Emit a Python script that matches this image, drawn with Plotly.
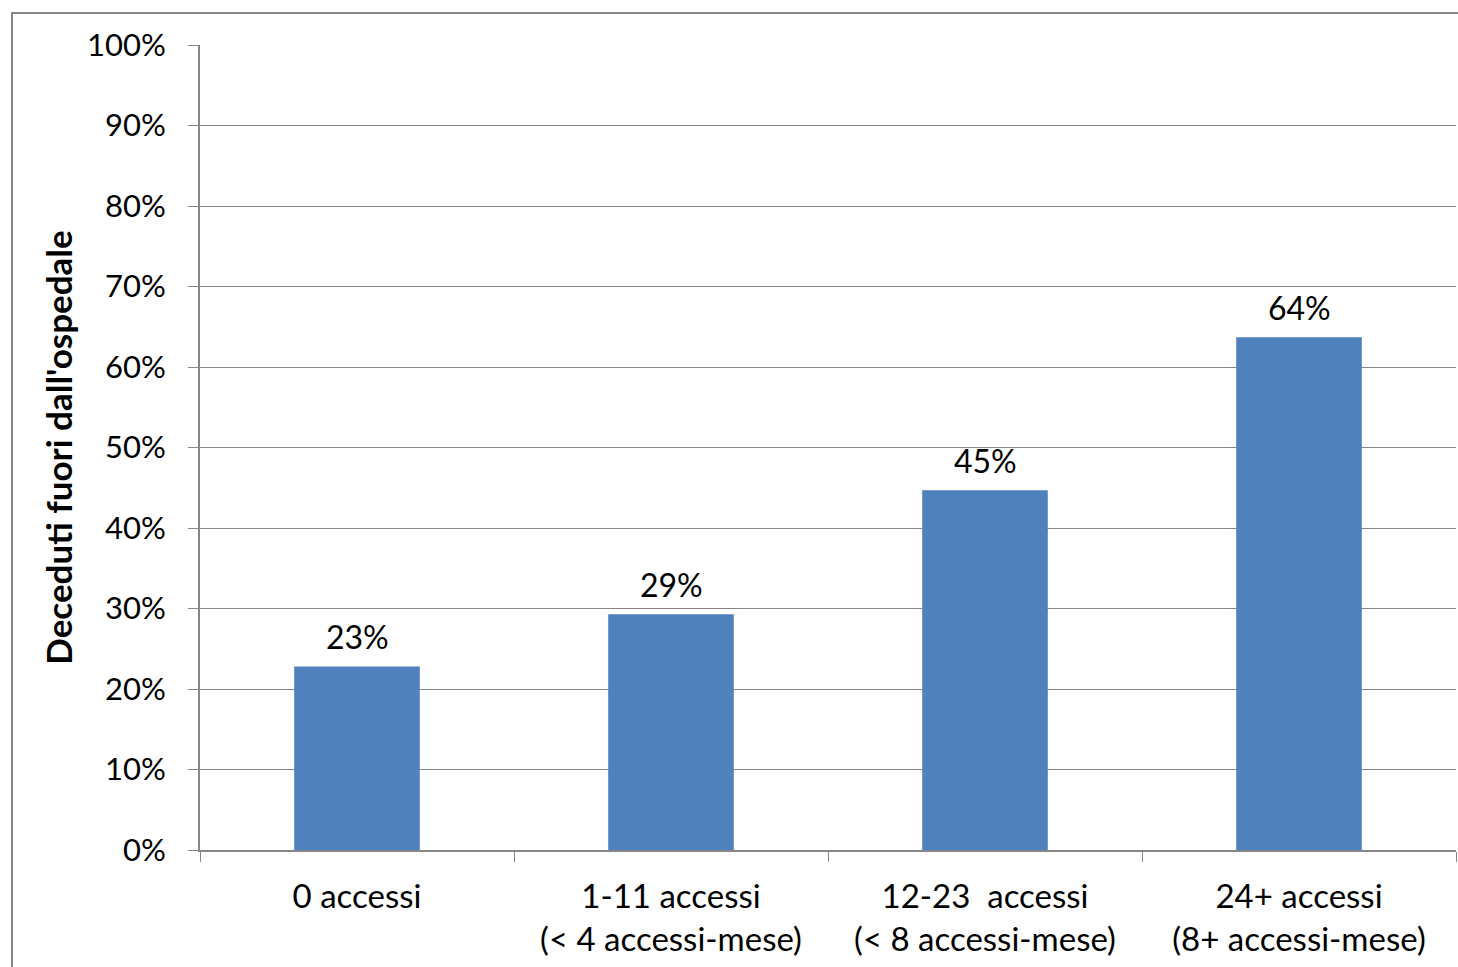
import plotly.graph_objects as go

categories = [
    "0 accessi",
    "1-11 accessi<br>(< 4 accessi-mese)",
    "12-23\u00a0 accessi<br>(< 8 accessi-mese)",
    "24+ accessi<br>(8+ accessi-mese)",
]
share_out_of_hospital = [0.228, 0.293, 0.447, 0.637]

y_title = "Deceduti fuori dall'ospedale"
font_family = "Lato, 'Open Sans', sans-serif"
axis_gray = "#868686"

fig = go.Figure(
    go.Bar(
        x=categories,
        y=share_out_of_hospital,
        marker=dict(color="#4F81BD", line=dict(width=0)),
        cliponaxis=False,
    )
)

# value labels above each bar
for cat, val in zip(categories, share_out_of_hospital):
    fig.add_annotation(
        x=cat, y=val, text=f"{val:.0%}",
        showarrow=False, yanchor="bottom", yshift=8,
        font=dict(size=32, family=font_family, color="black"),
    )

fig.update_layout(
    width=1458,
    height=967,
    margin=dict(l=200, r=2, t=45, b=117),
    paper_bgcolor="white",
    plot_bgcolor="white",
    bargap=0.6,
    showlegend=False,
    font=dict(family=font_family, size=31, color="black"),
    shapes=[
        dict(
            type="rect", xref="paper", yref="paper",
            x0=-0.1497, x1=1.2, y0=-0.3, y1=1.0398,
            line=dict(color=axis_gray, width=2), fillcolor="rgba(0,0,0,0)",
            layer="below",
        )
    ],
)

fig.update_xaxes(
    type="category",
    showline=True, linecolor=axis_gray, linewidth=2,
    ticks="outside", tickson="boundaries", ticklen=10,
    tickcolor=axis_gray, tickwidth=1,
    showgrid=False,
    ticklabelstandoff=16,
    tickfont=dict(size=33, family=font_family, color="black"),
)

fig.update_yaxes(
    range=[0, 1], dtick=0.1, tickformat=".0%",
    showline=True, linecolor=axis_gray, linewidth=2,
    ticks="outside", ticklen=10, tickcolor=axis_gray, tickwidth=1,
    showgrid=True, gridcolor=axis_gray, gridwidth=1,
    zeroline=False,
    ticklabelstandoff=16,
    tickfont=dict(size=31, family=font_family, color="black"),
    title=dict(text=f"<b>{y_title}</b>", font=dict(size=35, family=font_family, color="black"), standoff=4),
)

fig.write_html("out.html")
